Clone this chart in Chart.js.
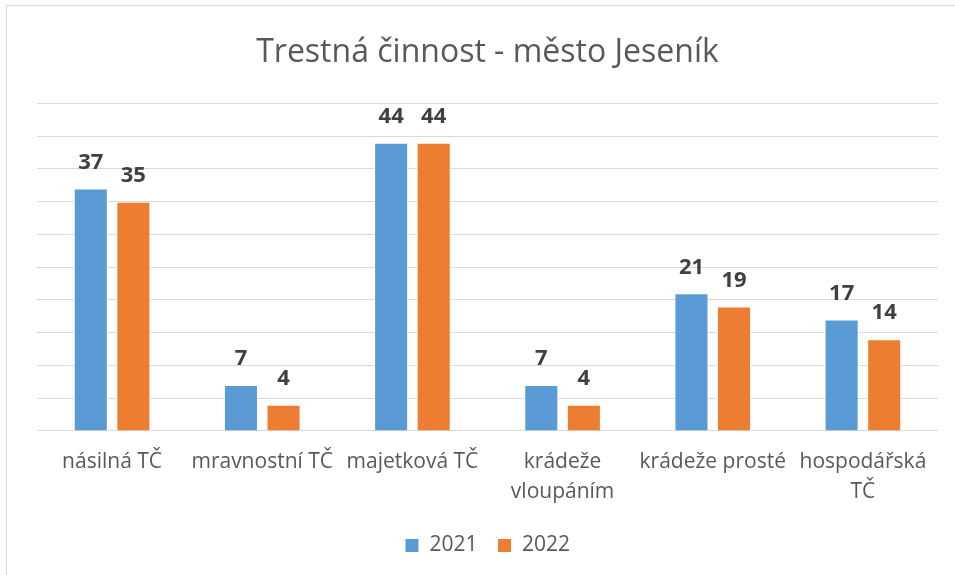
<!DOCTYPE html>
<html>
<head>
<meta charset="utf-8">
<script src="https://cdn.jsdelivr.net/npm/chart.js@4"></script>
<style>
    html, body { margin: 0; padding: 0; background: #fff; }
    #frame {
        position: absolute; left: 6px; top: 5px;
        width: 960px; height: 580px;
        border-left: 1px solid #d9d9d9; border-top: 1px solid #d9d9d9;
    }
    #wrap { position: absolute; left: 0; top: 0; width: 955px; height: 575px; }
</style>
</head>
<body>
<div id="frame"></div>
<div id="wrap"><canvas id="chart"></canvas></div>
<script>
const categories = [
    "násilná TČ",
    "mravnostní TČ",
    "majetková TČ",
    ["krádeže", "vloupáním"],
    "krádeže prosté",
    ["hospodářská", "TČ"]
];
const values2021 = [37, 7, 44, 7, 21, 17];
const values2022 = [35, 4, 44, 4, 19, 14];

const FONT = "'Open Sans', 'Liberation Sans', sans-serif";
const GREY = "#595959";

// bold value labels above each bar
const valueLabels = {
    id: "valueLabels",
    afterDatasetsDraw(chart) {
        const ctx = chart.ctx;
        ctx.save();
        ctx.font = "bold 22px " + FONT;
        ctx.fillStyle = "#404040";
        ctx.textAlign = "center";
        ctx.textBaseline = "middle";
        chart.data.datasets.forEach((ds, i) => {
            chart.getDatasetMeta(i).data.forEach((bar, j) => {
                ctx.fillText(ds.data[j], bar.x, bar.y - 26);
            });
        });
        ctx.restore();
    }
};

new Chart(document.getElementById("chart"), {
    type: "bar",
    data: {
        labels: categories,
        datasets: [
            {
                label: "2021",
                data: values2021,
                backgroundColor: "#5b9bd5",
                borderColor: "#ffffff",
                borderWidth: 1,
                categoryPercentage: 0.567,
                barPercentage: 0.8
            },
            {
                label: "2022",
                data: values2022,
                backgroundColor: "#ed7d31",
                borderColor: "#ffffff",
                borderWidth: 1,
                categoryPercentage: 0.567,
                barPercentage: 0.8
            }
        ]
    },
    options: {
        responsive: true,
        maintainAspectRatio: false,
        animation: false,
        layout: { padding: { left: 37, right: 17, top: 24, bottom: 9 } },
        scales: {
            x: {
                grid: { display: false },
                border: { display: false },
                ticks: {
                    color: GREY,
                    font: { family: FONT, size: 21, lineHeight: 1.43 },
                    maxRotation: 0,
                    autoSkip: false,
                    padding: 8
                }
            },
            y: {
                min: 0,
                max: 50,
                ticks: { stepSize: 5, display: false },
                border: { display: false },
                grid: { color: "#d9d9d9", drawTicks: false }
            }
        },
        plugins: {
            title: {
                display: true,
                text: "Trestná činnost - město Jeseník",
                color: GREY,
                font: { family: FONT, size: 32, weight: "normal" },
                padding: { top: 10, bottom: 31 }
            },
            legend: {
                position: "bottom",
                labels: {
                    color: GREY,
                    font: { family: FONT, size: 21 },
                    boxWidth: 14,
                    boxHeight: 14,
                    padding: 20
                }
            },
            tooltip: { enabled: false }
        }
    },
    plugins: [valueLabels]
});
</script>
</body>
</html>
